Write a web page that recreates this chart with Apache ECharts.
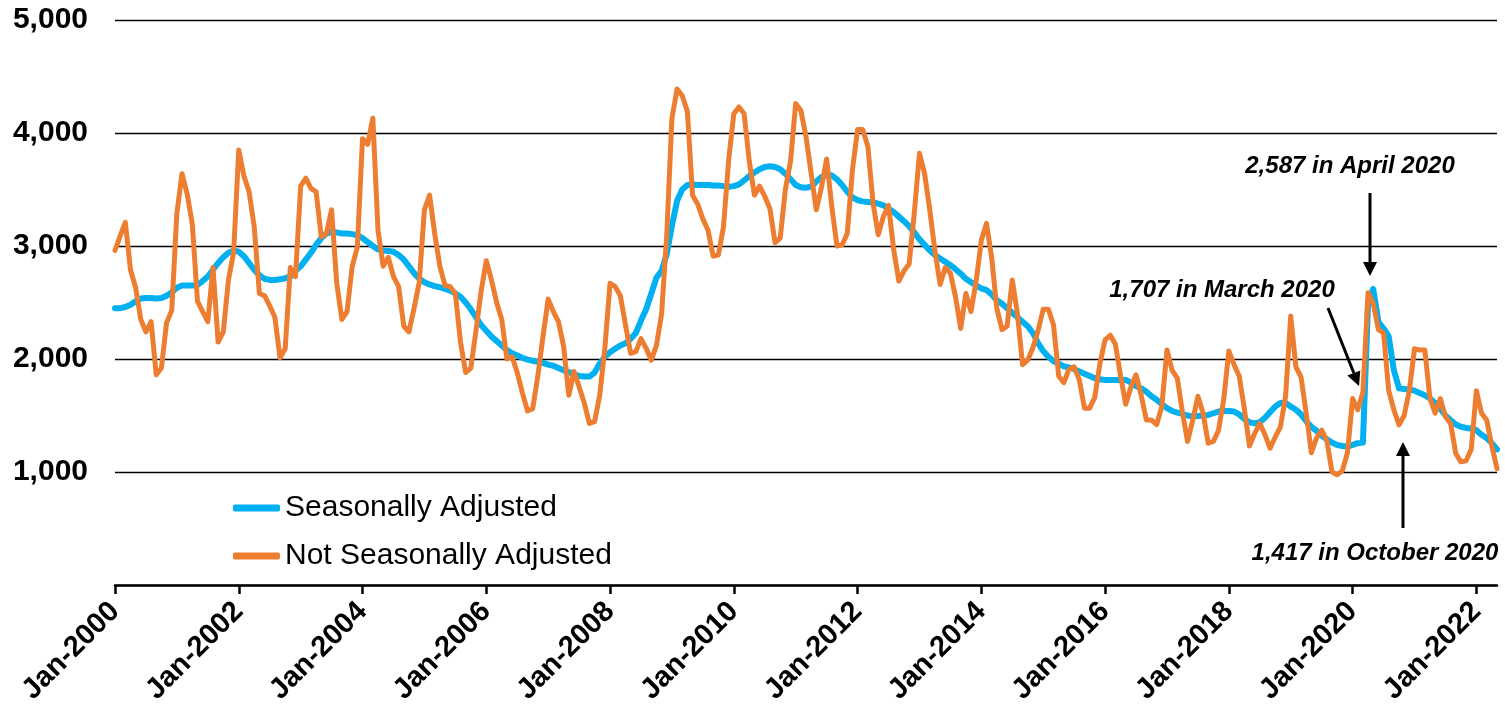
<!DOCTYPE html>
<html>
<head>
<meta charset="utf-8">
<script src="https://cdn.jsdelivr.net/npm/echarts@6.0.0/dist/echarts.min.js"></script>
<style>
  html, body { margin: 0; padding: 0; background: #fff; }
  #main { width: 1505px; height: 721px; }
</style>
</head>
<body>
<div id="main"></div>
<script>
// monthly values, Jan-2000 .. May-2022
const nsa = [
  2960, 3090, 3210, 2790, 2630, 2350, 2240, 2330, 1860, 1920, 2320, 2430, // 2000
  3290, 3640, 3460, 3190, 2510, 2420, 2330, 2810, 2150, 2240, 2700, 2940, // 2001
  3850, 3620, 3480, 3170, 2580, 2560, 2470, 2370, 2010, 2090, 2810, 2730, // 2002
  3530, 3600, 3510, 3480, 3080, 3110, 3320, 2670, 2350, 2420, 2820, 2990, // 2003
  3950, 3900, 4130, 3140, 2820, 2900, 2730, 2640, 2290, 2240, 2450, 2680, // 2004
  3320, 3450, 3110, 2820, 2650, 2640, 2580, 2150, 1880, 1920, 2250, 2600, // 2005
  2870, 2700, 2500, 2350, 2000, 2020, 1880, 1700, 1540, 1560, 1850, 2200, // 2006
  2530, 2420, 2330, 2110, 1680, 1890, 1755, 1610, 1430, 1445, 1680, 2100, // 2007
  2670, 2640, 2560, 2300, 2050, 2065, 2180, 2094, 1990, 2120, 2400, 3100, // 2008
  4130, 4390, 4330, 4190, 3450, 3370, 3240, 3140, 2910, 2920, 3170, 3760, // 2009
  4170, 4230, 4170, 3750, 3450, 3530, 3440, 3330, 3030, 3070, 3500, 3750, // 2010
  4260, 4200, 3970, 3640, 3320, 3520, 3770, 3350, 3000, 3010, 3110, 3670, // 2011
  4030, 4030, 3880, 3380, 3100, 3260, 3360, 2970, 2690, 2780, 2840, 3290, // 2012
  3820, 3640, 3320, 2960, 2660, 2810, 2760, 2550, 2270, 2580, 2420, 2690, // 2013
  3050, 3200, 2900, 2450, 2260, 2290, 2700, 2400, 1950, 1990, 2100, 2250, // 2014
  2440, 2440, 2300, 1850, 1790, 1910, 1930, 1815, 1565, 1565, 1660, 1960, // 2015
  2170, 2210, 2130, 1850, 1600, 1750, 1860, 1680, 1460, 1460, 1420, 1580, // 2016
  2080, 1900, 1830, 1530, 1270, 1460, 1670, 1520, 1255, 1270, 1370, 1640, // 2017
  2070, 1950, 1850, 1560, 1230, 1340, 1430, 1330, 1210, 1310, 1400, 1670, // 2018
  2380, 1930, 1840, 1520, 1170, 1300, 1370, 1280, 1000, 975, 1010, 1170,  // 2019
  1650, 1550, 1707, 2587, 2490, 2260, 2230, 1720, 1550, 1417, 1500, 1720, // 2020
  2090, 2080, 2080, 1650, 1520, 1650, 1490, 1430, 1165, 1090, 1100, 1200, // 2021
  1720, 1520, 1460, 1230, 1030                                            // 2022
];

const sa = [
  2450, 2450, 2460, 2480, 2510, 2535, 2540, 2540, 2535, 2540, 2560, 2590,
  2630, 2650, 2650, 2650, 2655, 2690, 2730, 2790, 2850, 2900, 2940, 2960,
  2950, 2910, 2850, 2790, 2740, 2710, 2700, 2700, 2705, 2715, 2730, 2780,
  2820, 2880, 2940, 3010, 3070, 3110, 3125, 3120, 3110, 3110, 3105, 3095,
  3070, 3035, 3000, 2970, 2960, 2955, 2950, 2920, 2880, 2820, 2760, 2710,
  2680, 2660, 2645, 2635, 2620, 2605, 2580, 2550, 2500, 2440, 2370, 2300,
  2250, 2200, 2160, 2120, 2080, 2050, 2030, 2010, 1995, 1985, 1975, 1965,
  1950, 1940, 1920, 1900, 1885, 1865, 1850, 1845, 1845, 1880, 1960, 2020,
  2060, 2090, 2120, 2140, 2180, 2230, 2340, 2440, 2580, 2720, 2780, 2930,
  3180, 3400, 3500, 3540, 3545, 3540, 3540, 3540, 3535, 3535, 3530, 3525,
  3530, 3545, 3580, 3620, 3650, 3680, 3700, 3705, 3700, 3680, 3640, 3590,
  3540, 3520, 3515, 3525, 3570, 3610, 3630, 3625, 3590, 3540, 3480, 3430,
  3405, 3395, 3390, 3385, 3375, 3360, 3330, 3300, 3260, 3220, 3175, 3120,
  3060, 3010, 2960, 2920, 2890, 2860, 2830, 2795, 2755, 2710, 2680, 2650,
  2625, 2610, 2570, 2520, 2490, 2450, 2410, 2370, 2330, 2290, 2230, 2140,
  2070, 2020, 1980, 1960, 1935, 1925, 1910, 1890, 1870, 1850, 1830, 1820,
  1815, 1815, 1815, 1815, 1815, 1790, 1760, 1740, 1710, 1670, 1640, 1600,
  1565, 1540, 1525, 1515, 1500, 1490, 1495, 1500, 1505, 1520, 1535, 1540,
  1540, 1535, 1510, 1470, 1440, 1430, 1440, 1480, 1530, 1580, 1610, 1610,
  1580, 1550, 1510, 1450, 1400, 1365, 1320, 1290, 1260, 1240, 1230, 1225,
  1240, 1255, 1260, 2500, 2620, 2330, 2270, 2200, 1900, 1740, 1735, 1730,
  1720, 1700, 1680, 1650, 1610, 1560, 1500, 1460, 1420, 1400, 1390, 1385,
  1370, 1330, 1300, 1255, 1200
];

const monthNames = ['Jan', 'Feb', 'Mar', 'Apr', 'May', 'Jun', 'Jul', 'Aug', 'Sep', 'Oct', 'Nov', 'Dec'];
const categories = [];
for (let i = 0; i < nsa.length; i++) {
  categories.push(monthNames[i % 12] + '-' + (2000 + Math.floor(i / 12)));
}

const FONT = "'Liberation Sans', Arial, sans-serif";
const colors = ['#00B0F0', '#ED7D31'];

const chart = echarts.init(document.getElementById('main'));

// annotation text + arrows
const noteFont = 'italic bold 24px ' + FONT;
function note (text, x, y) {
  return {
    type: 'text',
    z: 100,
    style: { text: text, x: x, y: y, font: noteFont, fill: '#000', textAlign: 'center', textVerticalAlign: 'middle', align: 'center', verticalAlign: 'middle' }
  };
}
function arrow (x1, y1, x2, y2) {
  const dx = x2 - x1;
  const dy = y2 - y1;
  const len = Math.sqrt(dx * dx + dy * dy);
  const ux = dx / len;
  const uy = dy / len;
  const head = 14;
  const half = 7;
  const bx = x2 - ux * head;
  const by = y2 - uy * head;
  return [
    { type: 'line', z: 100, shape: { x1: x1, y1: y1, x2: bx, y2: by }, style: { stroke: '#000', lineWidth: 3 } },
    { type: 'polygon', z: 100, shape: { points: [[x2, y2], [bx - uy * half, by + ux * half], [bx + uy * half, by - ux * half]] }, style: { fill: '#000' } }
  ];
}

const option = {
  animation: false,
  backgroundColor: '#fff',
  color: colors,
  textStyle: { fontFamily: FONT },
  grid: {
    left: 115,
    right: 8,
    top: 20,
    bottom: 136,
    containLabel: false,
    outerBoundsMode: 'none'
  },
  legend: {
    orient: 'vertical',
    left: 233,
    top: 493,
    padding: 0,
    itemWidth: 47,
    itemHeight: 7,
    itemGap: 18,
    icon: 'roundRect',
    textStyle: { fontSize: 30, color: '#000', fontFamily: FONT },
    data: ['Seasonally Adjusted', 'Not Seasonally Adjusted']
  },
  xAxis: {
    type: 'category',
    boundaryGap: false,
    data: categories,
    axisLine: { lineStyle: { color: '#000', width: 2.5 } },
    axisTick: { interval: 23, length: 9, lineStyle: { color: '#000', width: 2.5 } },
    axisLabel: {
      interval: 23,
      rotate: 45,
      margin: 22,
      color: '#000',
      fontWeight: 'bold',
      fontSize: 29,
      fontFamily: FONT
    },
    splitLine: { show: false }
  },
  yAxis: {
    type: 'value',
    min: 0,
    max: 5000,
    interval: 1000,
    axisLine: { show: false },
    axisTick: { show: false },
    axisLabel: {
      margin: 27,
      color: '#000',
      fontWeight: 'bold',
      fontSize: 30,
      fontFamily: FONT,
      formatter: (v) => v === 0 ? '' : v.toLocaleString('en-US')
    },
    splitLine: { lineStyle: { color: '#000', width: 1.3 } }
  },
  series: [
    {
      name: 'Seasonally Adjusted',
      type: 'line',
      data: sa,
      showSymbol: false,
      symbol: 'none',
      lineStyle: { width: 6, color: colors[0], cap: 'round', join: 'round' }
    },
    {
      name: 'Not Seasonally Adjusted',
      type: 'line',
      data: nsa,
      showSymbol: false,
      symbol: 'none',
      lineStyle: { width: 5, color: colors[1], cap: 'round', join: 'round' }
    }
  ],
  graphic: [
    note('2,587 in April 2020', 1350, 166),
    note('1,707 in March 2020', 1222, 290),
    note('1,417 in October 2020', 1375, 553),
    ...arrow(1370, 193, 1370, 276),
    ...arrow(1328, 308, 1359, 386),
    ...arrow(1403, 528, 1403, 442)
  ]
};

chart.setOption(option);
</script>
</body>
</html>
